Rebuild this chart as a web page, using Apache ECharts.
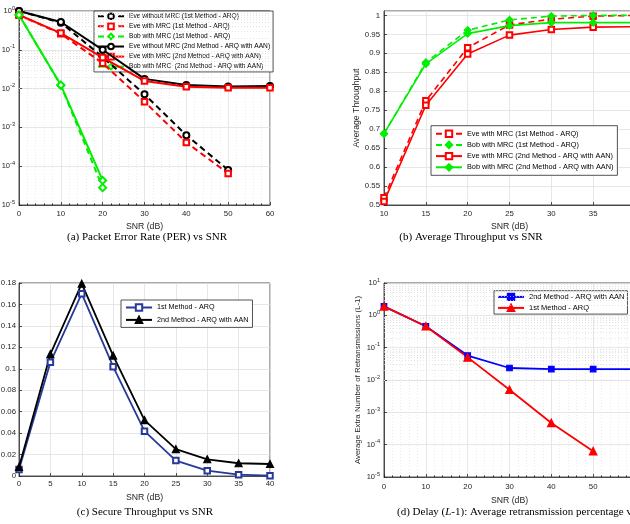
<!DOCTYPE html>
<html><head><meta charset="utf-8">
<script src="https://cdn.jsdelivr.net/npm/echarts@6/dist/echarts.min.js"></script>
<style>html,body{margin:0;padding:0;background:#fff;overflow:hidden;}#c{width:630px;height:524px;}</style>
</head><body><div id="c"></div>
<script>
// ---------- (a) Packet Error Rate vs SNR ----------
const snrPer = [0, 10, 20, 30, 40, 50, 60];
const snrPerEve1 = [0, 10, 20, 30, 40, 50];
const snrPerBob = [0, 10, 20];
const perEveNoMrc1 = [1.0, 0.5, 0.065, 0.0071, 0.00063, 0.000080];
const perEveMrc1 = [0.79, 0.26, 0.045, 0.0046, 0.00041, 0.000065];
const perBobMrc1 = [0.79, 0.0122, 0.000028];
const perEveNoMrc2 = [1.0, 0.52, 0.1, 0.0178, 0.0124, 0.0113, 0.0117];
const perEveMrc2 = [0.79, 0.27, 0.063, 0.0158, 0.0112, 0.0105, 0.0105];
const perBobMrc2 = [0.79, 0.0123, 0.000043];
// ---------- (b) Average Throughput vs SNR ----------
const snrThr = [10, 15, 20, 25, 30, 35, 40];
const thrEve1 = [0.519, 0.775, 0.915, 0.975, 0.990, 0.998, 1.0];
const thrBob1 = [0.688, 0.876, 0.961, 0.988, 0.998, 1.0, 1.0];
const thrEve2 = [0.509, 0.763, 0.898, 0.948, 0.963, 0.969, 0.970];
const thrBob2 = [0.688, 0.872, 0.952, 0.973, 0.981, 0.981, 0.981];
// ---------- (c) Secure Throughput vs SNR ----------
const snrSec = [0, 5, 10, 15, 20, 25, 30, 35, 40];
const secThr1 = [0.006, 0.106, 0.170, 0.102, 0.0418, 0.0144, 0.005, 0.0012, 0.0003];
const secThr2 = [0.0084, 0.1136, 0.1794, 0.1123, 0.0521, 0.025, 0.0156, 0.0119, 0.0112];
// ---------- (d) Delay ----------
const snrDel = [0, 10, 20, 30, 40, 50, 60];
const snrDel1 = [0, 10, 20, 30, 40, 50];
const delay2 = [1.9, 0.46, 0.057, 0.0235, 0.0218, 0.0218, 0.0218];
const delay1 = [1.9, 0.46, 0.05, 0.005, 0.00047, 0.000063];

// minor grid values
const minorMult = [2, 3, 4, 5, 6, 7, 8, 9];
const decadesA = [1e-5, 1e-4, 1e-3, 1e-2, 1e-1];
const decadesD = [1e-5, 1e-4, 1e-3, 1e-2, 1e-1, 1];

const captions = ['(a) Packet Error Rate (PER) vs SNR', '(b) Average Throughput vs SNR', '(c) Secure Throughput vs SNR', '(d) Delay ({i|L}-1): Average retransmission percentage vs SNR'];

const SANS = '"Liberation Sans", Arial, sans-serif';
const SERIF = '"Liberation Serif", "Times New Roman", serif';
const AX = '#262626';

function zip(xs, ys) { return xs.map((x, i) => [x, ys[i]]); }
function minorVals(decs) { const r = []; decs.forEach(d => minorMult.forEach(m => r.push(d * m))); return r; }

function ser(name, gi, xs, ys, color, dashed, symbol, size, width) {
  return {
    type: 'line', name: name, xAxisIndex: gi, yAxisIndex: gi,
    data: zip(xs, ys), symbol: symbol, symbolSize: size, z: 5,
    lineStyle: { color: color, width: width, type: dashed ? [6, 4] : 'solid' },
    itemStyle: { color: color, borderColor: color, borderWidth: 1.2 },
    showSymbol: true, animation: false
  };
}
function minorGrid(gi, decs) {
  return {
    type: 'line', xAxisIndex: gi, yAxisIndex: gi, data: [], z: 1, silent: true, animation: false,
    markLine: {
      silent: true, symbol: ['none', 'none'], label: { show: false }, animation: false,
      lineStyle: { color: '#d9d9d9', type: [1, 2], width: 0.7 },
      data: minorVals(decs).map(v => ({ yAxis: v }))
    }
  };
}

const logFmt = v => { const e = Math.round(Math.log10(v)); return '10{s|' + e + '}'; };
const logRich = { s: { fontSize: 5.6, fontFamily: SANS, color: AX, verticalAlign: 'top', lineHeight: 12, padding: [0, 0, 4, 0] } };

function xAx(gi, min, max, interval, minor, labelMargin, nameGap) {
  return {
    gridIndex: gi, type: 'value', min: min, max: max, interval: interval,
    name: 'SNR (dB)', nameLocation: 'middle', nameGap: nameGap,
    nameTextStyle: { fontFamily: SANS, fontSize: 8.7, color: AX },
    axisLine: { show: true, lineStyle: { color: AX, width: 0.8 } },
    axisTick: { show: true, inside: true, length: 3, lineStyle: { color: AX, width: 0.8 } },
    axisLabel: { fontFamily: SANS, fontSize: 7.8, color: AX, margin: labelMargin, showMaxLabel: true },
    splitLine: { show: true, lineStyle: { color: '#e1e1e1', width: 0.8 } },
    minorTick: { show: minor, splitNumber: 5, length: 1.5, lineStyle: { color: AX } },
    minorSplitLine: { show: minor, lineStyle: { color: '#dedede', type: [1, 2], width: 0.6 } }
  };
}
const commonLegend = {
  orient: 'vertical', backgroundColor: '#fff', borderColor: AX, borderWidth: 0.8,
  itemWidth: 26, selectedMode: false,
  formatter: n => n.split('|')[0]
};
const gridBase = { show: true, borderColor: AX, borderWidth: 0.8, backgroundColor: '#fff', outerBoundsMode: 'none', containLabel: false };

const chart = echarts.init(document.getElementById('c'), null, { renderer: 'canvas' });
chart.setOption({
  animation: false,
  backgroundColor: '#fff',
  grid: [
    Object.assign({ left: 19, top: 11, width: 251, height: 194 }, gridBase),
    Object.assign({ left: 384, top: 11, width: 251, height: 194 }, gridBase),
    Object.assign({ left: 19, top: 283, width: 251, height: 193 }, gridBase),
    Object.assign({ left: 384, top: 283, width: 251, height: 194 }, gridBase)
  ],
  xAxis: [
    xAx(0, 0, 60, 10, true, 5, 17),
    xAx(1, 10, 40, 5, false, 5, 17),
    xAx(2, 0, 40, 5, false, 4, 17),
    xAx(3, 0, 60, 10, true, 6, 19)
  ],
  yAxis: [
    {
      gridIndex: 0, type: 'log', logBase: 10, min: 1e-5, max: 1,
      axisLine: { show: true, lineStyle: { color: AX, width: 0.8 } },
      axisTick: { show: true, inside: true, length: 3, lineStyle: { color: AX, width: 0.8 } },
      axisLabel: { formatter: logFmt, rich: logRich, fontFamily: SANS, fontSize: 7.5, color: AX, margin: 4, lineHeight: 12 },
      splitLine: { show: true, lineStyle: { color: '#e1e1e1', width: 0.8 } }
    },
    {
      gridIndex: 1, type: 'value', min: 0.5, max: 1.0116, interval: 0.05,
      name: 'Average Throughput', nameLocation: 'middle', nameGap: 22,
      nameTextStyle: { fontFamily: SANS, fontSize: 8.7, color: AX },
      axisLine: { show: true, lineStyle: { color: AX, width: 0.8 } },
      axisTick: { show: true, inside: true, length: 3, lineStyle: { color: AX, width: 0.8 } },
      axisLabel: { fontFamily: SANS, fontSize: 7.8, color: AX, margin: 4, showMaxLabel: false,
        formatter: v => (Math.round(v * 100) / 100).toString() },
      splitLine: { show: true, lineStyle: { color: '#e1e1e1', width: 0.8 } }
    },
    {
      gridIndex: 2, type: 'value', min: 0, max: 0.18, interval: 0.02,
      axisLine: { show: true, lineStyle: { color: AX, width: 0.8 } },
      axisTick: { show: true, inside: true, length: 3, lineStyle: { color: AX, width: 0.8 } },
      axisLabel: { fontFamily: SANS, fontSize: 7.8, color: AX, margin: 3,
        formatter: v => (Math.round(v * 100) / 100).toString() },
      splitLine: { show: true, lineStyle: { color: '#e1e1e1', width: 0.8 } }
    },
    {
      gridIndex: 3, type: 'log', logBase: 10, min: 1e-5, max: 10,
      name: 'Average Extra Number of Retransmissions (L-1)', nameLocation: 'middle', nameGap: 22,
      nameTextStyle: { fontFamily: SANS, fontSize: 7.9, color: AX },
      axisLine: { show: true, lineStyle: { color: AX, width: 0.8 } },
      axisTick: { show: true, inside: true, length: 3, lineStyle: { color: AX, width: 0.8 } },
      axisLabel: { formatter: logFmt, rich: logRich, fontFamily: SANS, fontSize: 7.5, color: AX, margin: 4, lineHeight: 12 },
      splitLine: { show: true, lineStyle: { color: '#e1e1e1', width: 0.8 } }
    }
  ],
  legend: [
    Object.assign({}, commonLegend, {
      left: 94, top: 11, padding: [1.5, 3, 1.5, 3], itemGap: 2.47, itemHeight: 7,
      textStyle: { fontFamily: SANS, fontSize: 6.6, lineHeight: 7, color: '#000' },
      data: ['Eve without MRC (1st Method - ARQ)|a', 'Eve with MRC (1st Method - ARQ)|a', 'Bob with MRC (1st Method - ARQ)|a',
        'Eve without MRC (2nd Method - ARQ with AAN)|a', 'Eve with MRC (2nd Method - ARQ with AAN)|a', 'Bob with MRC  (2nd Method - ARQ with AAN)|a']
    }),
    Object.assign({}, commonLegend, {
      left: 431, top: 125.7, padding: [3.8, 4, 3.8, 4], itemGap: 2.8, itemHeight: 8,
      textStyle: { fontFamily: SANS, fontSize: 7.3, lineHeight: 8, color: '#000' },
      data: ['Eve with MRC (1st Method - ARQ)|b', 'Bob with MRC (1st Method - ARQ)|b',
        'Eve with MRC (2nd Method - ARQ with AAN)|b', 'Bob with MRC (2nd Method - ARQ with AAN)|b']
    }),
    Object.assign({}, commonLegend, {
      left: 121, top: 300, padding: [3.3, 4, 3.3, 4], itemGap: 4, itemHeight: 8,
      textStyle: { fontFamily: SANS, fontSize: 7.2, lineHeight: 8, color: '#000' },
      data: ['1st Method - ARQ|c', '2nd Method - ARQ with AAN|c']
    }),
    Object.assign({}, commonLegend, {
      left: 494, top: 290.7, padding: [2, 3, 2, 3], itemGap: 2.6, itemHeight: 8,
      textStyle: { fontFamily: SANS, fontSize: 7.5, lineHeight: 8, color: '#000' },
      data: ['2nd Method - ARQ with AAN|d', '1st Method - ARQ|d']
    })
  ],
  graphic: [
    { type: 'text', x: 147, y: 237, style: { text: captions[0], font: '11px ' + SERIF, fill: '#000', align: 'center', verticalAlign: 'middle' } },
    { type: 'text', x: 471, y: 237, style: { text: captions[1], font: '11px ' + SERIF, fill: '#000', align: 'center', verticalAlign: 'middle' } },
    { type: 'text', x: 145, y: 512, style: { text: captions[2], font: '11px ' + SERIF, fill: '#000', align: 'center', verticalAlign: 'middle' } },
    { type: 'text', x: 397, y: 512, style: { text: captions[3], font: '11px ' + SERIF, fill: '#000', align: 'left', verticalAlign: 'middle',
      rich: { i: { fontStyle: 'italic', fontFamily: SERIF, fontSize: 11, fill: '#000' } } } }
  ],
  series: [
    minorGrid(0, decadesA),
    minorGrid(3, decadesD),
    ser('Eve without MRC (1st Method - ARQ)|a', 0, snrPerEve1, perEveNoMrc1, '#000000', true, 'emptyCircle', 6, 2),
    ser('Eve with MRC (1st Method - ARQ)|a', 0, snrPerEve1, perEveMrc1, '#ff0000', true, 'emptyRect', 5.5, 2),
    ser('Bob with MRC (1st Method - ARQ)|a', 0, snrPerBob, perBobMrc1, '#00ee00', true, 'emptyDiamond', 7, 2),
    ser('Eve without MRC (2nd Method - ARQ with AAN)|a', 0, snrPer, perEveNoMrc2, '#000000', false, 'emptyCircle', 6, 2),
    ser('Eve with MRC (2nd Method - ARQ with AAN)|a', 0, snrPer, perEveMrc2, '#ff0000', false, 'emptyRect', 5.5, 2),
    ser('Bob with MRC  (2nd Method - ARQ with AAN)|a', 0, snrPerBob, perBobMrc2, '#00ee00', false, 'emptyDiamond', 7, 2),

    ser('Eve with MRC (1st Method - ARQ)|b', 1, snrThr, thrEve1, '#ff0000', true, 'emptyRect', 5.5, 1.6),
    ser('Bob with MRC (1st Method - ARQ)|b', 1, snrThr, thrBob1, '#00ee00', true, 'diamond', 7, 1.6),
    ser('Eve with MRC (2nd Method - ARQ with AAN)|b', 1, snrThr, thrEve2, '#ff0000', false, 'emptyRect', 5.5, 1.6),
    ser('Bob with MRC (2nd Method - ARQ with AAN)|b', 1, snrThr, thrBob2, '#00ee00', false, 'diamond', 7, 1.6),

    ser('1st Method - ARQ|c', 2, snrSec, secThr1, '#27399a', false, 'emptyRect', 5.5, 1.8),
    ser('2nd Method - ARQ with AAN|c', 2, snrSec, secThr2, '#000000', false, 'triangle', 7, 1.8),

    ser('2nd Method - ARQ with AAN|d', 3, snrDel, delay2, '#0000ff', false, 'rect', 5.5, 1.8),
    ser('1st Method - ARQ|d', 3, snrDel1, delay1, '#ff0000', false, 'triangle', 7.5, 1.8)
  ]
});
</script></body></html>
